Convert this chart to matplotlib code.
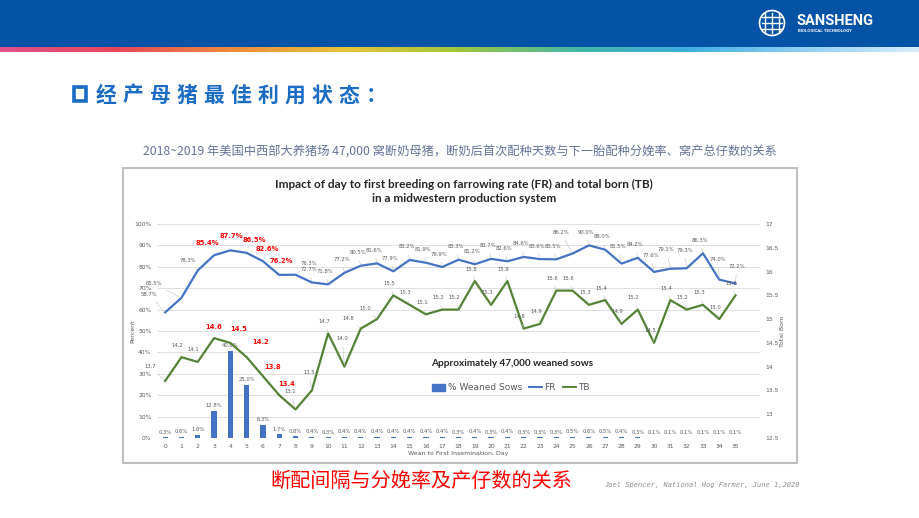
import matplotlib
matplotlib.use('Agg')
import matplotlib.pyplot as plt
from matplotlib.patches import Rectangle, Circle, Patch
from matplotlib.lines import Line2D
from matplotlib.colors import LinearSegmentedColormap
import numpy as np

# data
days = list(range(36))
weaned_pct = [0.3, 0.6, 1.6, 12.8, 40.6, 25.0, 6.3, 1.7, 0.8, 0.4, 0.3, 0.4,
              0.4, 0.4, 0.4, 0.4, 0.4, 0.4, 0.3, 0.4, 0.3, 0.4, 0.3, 0.3,
              0.3, 0.5, 0.6, 0.5, 0.4, 0.3, 0.1, 0.1, 0.1, 0.1, 0.1, 0.1]
fr = [58.7, 65.5, 78.3, 85.4, 87.7, 86.5, 82.6, 76.2, 76.3, 72.7, 71.8, 77.2,
      80.5, 81.6, 77.9, 83.2, 81.9, 79.9, 83.3, 81.2, 83.7, 82.6, 84.6, 83.6,
      83.5, 86.2, 90.0, 88.0, 81.5, 84.2, 77.6, 79.1, 79.3, 86.3, 74.0, 72.2]
tb = [13.7, 14.2, 14.1, 14.6, 14.5, 14.2, 13.8, 13.4, 13.1, 13.5, 14.7, 14.0,
      14.8, 15.0, 15.5, 15.3, 15.1, 15.2, 15.2, 15.8, 15.3, 15.8, 14.8, 14.9,
      15.6, 15.6, 15.3, 15.4, 14.9, 15.2, 14.5, 15.4, 15.2, 15.3, 15.0, 15.5]
highlight = [3, 4, 5, 6, 7]
pct_ticks = list(range(0, 101, 10))
tb_ticks = [12.5, 13, 13.5, 14, 14.5, 15, 15.5, 16, 16.5, 17]

CJK = ['Noto Sans CJK SC', 'DejaVu Sans']
BLUE = '#4472C4'
GREEN = '#548235'
GREY = '#595959'

fig = plt.figure(figsize=(9.2, 5.18), dpi=100)

# slide background in pixel coordinates
bg = fig.add_axes([0, 0, 1, 1])
bg.set_xlim(0, 920)
bg.set_ylim(518, 0)
bg.axis('off')

bg.add_patch(Rectangle((0, 0), 920, 47, color='#0453A6', lw=0))
stripe = LinearSegmentedColormap.from_list('stripe', [
    '#e2508a', '#e8465a', '#ee8a3c', '#e6c43a', '#9ec63e', '#45b7a4',
    '#3eaee2', '#8fd0f2', '#d6ecfa'])
bg.imshow(np.linspace(0, 1, 400).reshape(1, -1), cmap=stripe, aspect='auto',
          extent=(0, 920, 52, 47), zorder=1)

# logo
bg.add_patch(Circle((772, 23), 12.5, fill=False, ec='white', lw=1.2))
for yy in (17, 23, 29):
    bg.plot([762, 782], [yy, yy], color='white', lw=1.0)
for xx in (765, 772, 779):
    bg.plot([xx, xx], [13, 33], color='white', lw=1.0)
bg.text(797, 21, 'SANSHENG', color='white', fontsize=10.5, fontweight='bold',
        family='Roboto', va='center', ha='left')
bg.text(798, 31.5, 'BIOLOGICAL TECHNOLOGY', color='white', fontsize=3.2,
        fontweight='bold', family='Roboto', va='center', ha='left')

# slide title
TITLE_C = '#1a6cc4'
bg.add_patch(Rectangle((74, 87), 12, 14, fill=False, ec=TITLE_C, lw=2.6))
for i, ch in enumerate('经产母猪最佳利用状态：'):
    bg.text(106 + i * 27, 95, ch, color=TITLE_C, fontsize=15, fontweight='bold',
            family=CJK, ha='center', va='center')

bg.text(460, 152, '2018~2019 年美国中西部大养猪场 47,000 窝断奶母猪，'
        '断奶后首次配种天数与下一胎配种分娩率、窝产总仔数的关系',
        color='#64739a', fontsize=8.8, family=CJK, ha='center', va='center')

# chart frame
bg.add_patch(Rectangle((123, 168), 674, 295, fc='white', ec='#BFBFBF', lw=1.5))
bg.text(464, 184, 'Impact of day to first breeding on farrowing rate (FR) and total born (TB)',
        fontsize=8.5, fontweight='bold', family='Lato', color='#262626',
        ha='center', va='center')
bg.text(464, 199, 'in a midwestern production system', fontsize=8.5,
        fontweight='bold', family='Lato', color='#262626', ha='center', va='center')
bg.text(512, 363, 'Approximately 47,000 weaned sows', fontsize=7.2,
        fontweight='bold', family='Lato', color='#262626', ha='center', va='center')
bg.text(133, 331, 'Percent', rotation=90, fontsize=4.5, color=GREY,
        ha='center', va='center')
bg.text(783, 331, 'Total Born', rotation=90, fontsize=4.5, color=GREY,
        ha='center', va='center')
bg.text(458, 453, 'Wean to First Insemination, Day', fontsize=4.5, color=GREY,
        ha='center', va='center')

# captions
bg.text(421, 481, '断配间隔与分娩率及产仔数的关系', color='#FF0000', fontsize=14.5,
        family=CJK, ha='center', va='center')
bg.text(702, 485, 'Joel Spencer, National Hog Farmer, June 1,2020', color='#8a8f9a',
        fontsize=5.0, style='italic', family='DejaVu Sans Mono', ha='center', va='center')

# chart
ax = fig.add_axes([157 / 920, (518 - 438) / 518, (760 - 157) / 920, 214 / 518])
ax.patch.set_alpha(0)
ax.set_xlim(-0.5, 36.5)
ax.set_ylim(0, 100)
ax.set_yticks(pct_ticks)
ax.set_yticklabels([f'{t}%' for t in pct_ticks])
ax.set_xticks(days)
ax.grid(axis='y', color='#D9D9D9', lw=0.6)
ax.set_axisbelow(True)
for s in ax.spines.values():
    s.set_visible(False)
ax.tick_params(length=0, labelsize=4.3, colors=GREY)
ax.tick_params(axis='x', pad=4)
ax.tick_params(axis='y', pad=4)

ax.bar(days, weaned_pct, width=0.32, color=BLUE, zorder=2)
ax.plot(days, fr, color=BLUE, lw=1.6, zorder=3)

ax2 = ax.twinx()
ax2.set_ylim(12.5, 17)
ax2.set_yticks(tb_ticks)
ax2.set_yticklabels([f'{t:g}' for t in tb_ticks])
for s in ax2.spines.values():
    s.set_visible(False)
ax2.tick_params(length=0, labelsize=4.3, colors=GREY, pad=4)
ax2.plot(days, tb, color=GREEN, lw=1.6, zorder=3)

# data labels
for i, v in enumerate(weaned_pct):
    ax.text(i, v + 1.3, f'{v:.1f}%', ha='center', va='bottom', fontsize=3.8, color=GREY)

fr_off = {0: (-16, 18), 1: (-28, 14), 2: (-10, 10), 3: (-7, 12), 4: (1, 14),
          5: (8, 13), 6: (4, 12), 7: (2, 14), 8: (13, 11),
          25: (-12, 21), 28: (-4, 17),
          30: (-3, 16), 31: (-4, 19), 32: (-2, 18), 34: (-1, 20), 35: (1, 17)}
tb_off = {0: (-15, 14), 3: (0, 11), 4: (8, 14), 5: (14, 15), 6: (10, 9),
          7: (7, 11), 8: (-5, 18), 9: (-3, 18), 11: (-2, 28), 12: (-12, 10),
          13: (-12, 11)}


def label(axis, x, y, txt, off, red):
    if red:
        axis.annotate(txt, (x, y), xytext=off, textcoords='offset pixels',
                      ha='center', va='center', fontsize=4.9, fontweight='bold',
                      color='#FF0000')
    else:
        axis.annotate(txt, (x, y), xytext=off, textcoords='offset pixels',
                      ha='center', va='center', fontsize=3.8, color=GREY,
                      arrowprops=dict(arrowstyle='-', color='#BFBFBF', lw=0.4,
                                      shrinkA=2, shrinkB=1))


for i, v in enumerate(fr):
    label(ax, i, v, f'{v:.1f}%', fr_off.get(i, (-3, 13)), i in highlight)
for i, v in enumerate(tb):
    label(ax2, i, v, f'{v:.1f}', tb_off.get(i, (-4, 12)), i in highlight)

handles = [Patch(color=BLUE), Line2D([], [], color=BLUE, lw=1.4),
           Line2D([], [], color=GREEN, lw=1.4)]
fig.legend(handles, ['% Weaned Sows', 'FR', 'TB'], loc='center',
           bbox_to_anchor=(511 / 920, 1 - 388 / 518), ncol=3, frameon=False,
           fontsize=6.5, labelcolor=GREY, handlelength=1.4, columnspacing=0.8,
           handletextpad=0.3)

fig.savefig('out.png', dpi=100)
